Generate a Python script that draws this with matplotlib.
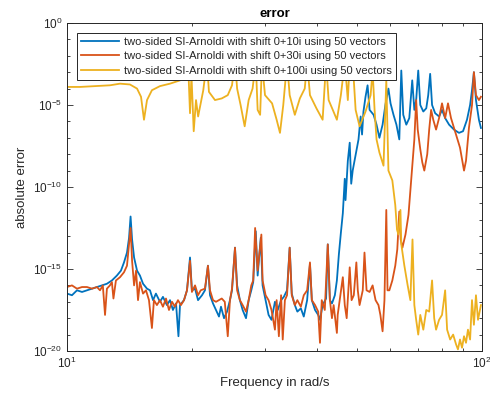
import numpy as np
import matplotlib
matplotlib.use("Agg")
import matplotlib.pyplot as plt
from matplotlib.ticker import LogLocator, FixedLocator, NullFormatter


# ---------------- DATA ----------------
# frequencies in rad/s, errors stored as log10(absolute error)

freq_10i = [
    10.0, 10.28, 10.57, 10.87, 11.17, 11.49, 11.81, 12.14, 12.48, 12.83,
    13.19, 13.49, 13.72, 13.95, 14.11, 14.23, 14.35, 14.51, 14.75, 14.99,
    15.25, 15.59, 15.85, 16.12, 16.38, 16.75, 17.03, 17.41, 17.71, 18.0,
    18.31, 18.56, 18.72, 19.14, 19.46, 19.79, 20.0, 20.35, 20.69, 21.15,
    21.5, 21.86, 22.11, 22.48, 22.86, 23.24, 23.5, 23.9, 24.3, 24.7,
    24.98, 25.4, 25.7, 26.1, 26.5, 27.0, 27.4, 27.8, 28.1, 28.5,
    28.8, 29.3, 29.6, 30.1, 30.6, 31.1, 31.7, 32.2, 32.8, 33.3,
    33.9, 34.4, 34.8, 35.4, 35.9, 36.6, 37.2, 37.9, 38.5, 38.9,
    39.6, 40.3, 40.7, 41.3, 42.1, 42.5, 43.0, 43.5, 44.2, 44.7,
    45.2, 45.7, 46.2, 46.7, 46.9, 47.5, 48.0, 48.4, 48.8, 49.3,
    49.9, 50.4, 51.0, 51.4, 51.8, 52.4, 53.0, 53.6, 54.8, 55.7,
    56.6, 57.6, 58.5, 59.5, 60.2, 61.2, 62.2, 63.2, 63.9, 64.6,
    65.7, 66.8, 67.9, 68.7, 69.4, 70.2, 71.0, 72.2, 73.4, 74.2,
    75.0, 75.8, 77.1, 78.8, 80.1, 81.5, 83.3, 85.6, 88.0, 90.0,
    92.0, 93.6, 94.6, 95.6, 96.7, 98.3, 99.4,
]
logerr_10i = [
    -16.5, -16.6, -16.3, -16.4, -16.3, -16.2, -16.1, -16.0, -15.9, -15.7,
    -15.4, -15.1, -14.6, -14.0, -13.1, -11.8, -13.2, -14.3, -15.1, -15.4,
    -15.9, -16.2, -16.3, -16.9, -16.5, -17.0, -16.7, -17.2, -16.9, -17.5,
    -17.1, -19.1, -17.2, -16.9, -16.3, -14.3, -16.3, -16.2, -16.9, -16.6,
    -16.3, -14.8, -16.6, -17.1, -17.5, -17.9, -17.3, -18.0, -17.6, -16.9,
    -16.3, -13.7, -16.0, -16.9, -17.5, -18.0, -16.9, -16.3, -15.8, -12.7,
    -15.4, -13.1, -16.0, -16.9, -17.8, -18.1, -17.0, -17.5, -16.9, -16.7,
    -16.3, -13.7, -16.5, -17.2, -17.6, -17.4, -17.9, -16.9, -14.7, -16.9,
    -17.5, -17.8, -18.1, -17.2, -16.8, -13.5, -16.9, -17.1, -16.6, -15.7,
    -14.1, -12.8, -11.6, -9.5, -10.8, -8.4, -7.3, -9.8, -9.0, -8.4,
    -7.7, -7.1, -5.7, -6.8, -5.4, -4.5, -3.8, -5.3, -5.6, -6.2,
    -7.0, -6.2, -5.0, -4.0, -4.9, -5.6, -6.2, -7.1, -2.9, -5.6,
    -6.2, -5.8, -3.5, -5.3, -4.7, -2.9, -5.0, -5.4, -5.2, -4.4,
    -3.1, -5.0, -5.5, -5.7, -5.3, -5.8, -6.2, -6.5, -6.7, -6.6,
    -5.9, -5.0, -4.1, -3.0, -4.7, -5.9, -6.4,
]

freq_30i = [
    10.0, 10.28, 10.57, 10.87, 11.17, 11.49, 11.81, 12.01, 12.2, 12.35,
    12.48, 12.69, 12.83, 12.94, 13.12, 13.42, 13.72, 13.95, 14.11, 14.23,
    14.35, 14.51, 14.67, 14.83, 14.99, 15.25, 15.5, 15.76, 16.02, 16.2,
    16.47, 16.75, 17.03, 17.32, 17.61, 17.91, 18.2, 18.51, 18.82, 19.14,
    19.46, 19.79, 20.0, 20.35, 20.69, 21.0, 21.5, 21.86, 22.11, 22.48,
    22.86, 23.24, 23.6, 24.0, 24.4, 24.7, 24.98, 25.4, 25.7, 26.1,
    26.5, 27.0, 27.4, 27.8, 28.1, 28.4, 28.8, 29.4, 29.6, 30.1,
    30.6, 31.1, 31.7, 32.0, 32.4, 32.8, 33.1, 33.5, 33.9, 34.4,
    34.8, 35.4, 35.9, 36.6, 37.2, 37.9, 38.5, 38.9, 39.6, 40.3,
    40.7, 41.1, 41.8, 42.5, 43.0, 43.5, 43.9, 44.7, 44.9, 45.4,
    46.2, 46.7, 47.2, 48.0, 48.5, 49.1, 49.8, 50.2, 50.7, 51.6,
    52.1, 52.7, 53.6, 54.5, 55.4, 56.3, 56.9, 57.6, 58.2, 58.8,
    59.2, 59.8, 60.8, 61.8, 62.5, 63.2, 63.7, 64.3, 65.4, 66.5,
    67.2, 67.9, 68.7, 69.4, 70.0, 71.0, 71.8, 72.6, 73.8, 74.6,
    75.4, 76.3, 77.5, 78.8, 80.1, 81.5, 82.8, 84.2, 86.1, 88.5,
    90.5, 91.5, 93.0, 94.6, 95.6, 96.7, 98.3, 99.4,
]
logerr_30i = [
    -16.1, -16.0, -16.2, -16.1, -16.1, -16.2, -16.1, -16.3, -16.0, -17.8,
    -16.2, -16.0, -15.8, -16.8, -15.7, -15.5, -15.2, -14.8, -13.5, -12.5,
    -14.5, -16.0, -15.1, -16.9, -15.8, -16.5, -16.3, -16.9, -18.6, -16.9,
    -17.2, -16.9, -17.3, -16.8, -17.5, -17.0, -17.3, -16.9, -17.2, -16.9,
    -16.3, -14.5, -16.4, -16.0, -16.6, -16.3, -16.2, -14.8, -16.3, -16.9,
    -17.0, -16.9, -16.8, -17.0, -19.1, -16.9, -16.2, -13.7, -16.3, -16.9,
    -17.2, -17.6, -16.9, -16.0, -15.7, -12.5, -15.1, -12.9, -15.7, -16.6,
    -16.9, -17.5, -18.7, -16.9, -19.1, -16.6, -19.3, -16.9, -16.6, -13.7,
    -16.6, -17.2, -16.9, -17.3, -16.6, -16.3, -14.6, -16.9, -17.2, -17.6,
    -19.5, -16.9, -17.5, -13.5, -16.9, -18.0, -17.2, -18.9, -17.8, -16.9,
    -15.5, -17.2, -18.0, -14.9, -16.9, -16.6, -14.6, -16.3, -17.2, -16.3,
    -14.0, -16.3, -16.4, -16.0, -16.9, -17.2, -17.8, -18.8, -16.9, -11.4,
    -16.3, -16.3, -15.7, -14.8, -13.8, -11.5, -13.2, -13.7, -12.9, -11.7,
    -10.2, -8.7, -7.1, -4.7, -6.5, -7.7, -8.5, -9.0, -8.0, -6.5,
    -5.3, -5.9, -6.5, -5.8, -4.9, -5.8, -4.9, -5.8, -6.6, -7.6,
    -9.0, -8.4, -6.4, -5.0, -3.0, -4.4, -4.7, -4.5,
]

freq_100i = [
    10.0, 10.75, 11.68, 12.69, 13.42, 14.18, 14.75, 15.08, 15.33, 15.59,
    16.02, 16.75, 17.71, 18.72, 19.35, 19.57, 19.79, 19.95, 20.2, 20.46,
    20.7, 21.3, 21.74, 21.98, 22.73, 23.6, 24.4, 24.98, 25.4, 25.7,
    26.2, 26.8, 27.4, 28.0, 28.5, 28.8, 29.2, 29.5, 30.0, 31.2,
    32.0, 32.6, 33.2, 33.9, 34.4, 35.4, 36.4, 37.4, 37.9, 38.5,
    39.9, 41.3, 42.1, 42.7, 43.7, 44.7, 45.7, 46.7, 47.5, 48.0,
    48.8, 49.6, 50.7, 52.4, 53.9, 54.5, 55.1, 55.7, 56.6, 57.9,
    58.8, 59.5, 60.8, 61.8, 62.4, 62.9, 63.6, 63.9, 65.0, 66.2,
    67.2, 68.0, 68.7, 69.4, 70.2, 71.0, 72.2, 73.4, 74.6, 75.8,
    76.7, 77.5, 78.8, 80.1, 81.5, 82.4, 83.8, 85.2, 86.6, 87.5,
    88.5, 89.5, 90.5, 91.5, 92.5, 93.6, 94.6, 95.6, 96.7, 97.8,
    99.4,
]
logerr_100i = [
    -3.9, -3.9, -3.85, -3.8, -3.7, -3.75, -4.0, -4.5, -5.9, -4.7,
    -4.1, -3.85, -3.7, -3.5, -2.9, -2.3, -5.5, -3.2, -6.6, -4.7,
    -5.7, -4.1, -2.3, -4.2, -4.7, -4.6, -4.4, -3.8, -2.3, -4.0,
    -5.0, -6.3, -4.7, -4.0, -2.4, -5.3, -5.6, -2.4, -4.4, -4.9,
    -5.9, -6.7, -5.0, -2.4, -4.4, -5.6, -4.6, -4.0, -2.4, -4.4,
    -5.2, -5.9, -2.4, -4.7, -5.3, -5.9, -4.4, -2.4, -4.7, -2.4,
    -2.4, -5.3, -6.3, -5.4, -4.4, -2.9, -5.3, -7.1, -7.9, -8.7,
    -3.5, -9.0, -9.6, -11.1, -12.6, -12.9, -11.4, -13.5, -14.8, -16.0,
    -16.9, -13.2, -17.2, -18.1, -19.0, -17.8, -18.7, -17.5, -17.6, -15.7,
    -18.0, -18.7, -18.1, -17.8, -16.3, -18.7, -19.3, -19.0, -19.6, -19.9,
    -19.3, -19.8, -19.1, -19.5, -18.7, -19.3, -16.9, -18.4, -16.6, -18.1,
    -17.2,
]

labels = [
    "two-sided SI-Arnoldi with shift 0+10i using 50 vectors",
    "two-sided SI-Arnoldi with shift 0+30i using 50 vectors",
    "two-sided SI-Arnoldi with shift 0+100i using 50 vectors",
]
colors = ["#0072BD", "#D95319", "#EDB120"]
# ----------------------------------------------------------------

plt.rcParams["font.family"] = ["Liberation Sans", "DejaVu Sans"]
plt.rcParams["mathtext.default"] = "regular"

axis_col = "#262626"

fig = plt.figure(figsize=(4.90, 4.01), dpi=100)
ax = fig.add_axes([0.1367, 0.1247, 0.847, 0.818])

series = [
    (freq_10i, logerr_10i),
    (freq_30i, logerr_30i),
    (freq_100i, logerr_100i),
]
for (f, le), lab, c in zip(series, labels, colors):
    ax.plot(f, 10.0 ** np.asarray(le), color=c, lw=1.3, label=lab)

ax.set_xscale("log")
ax.set_yscale("log")
ax.set_xlim(10, 100)
ax.set_ylim(1e-20, 1e0)

ax.yaxis.set_major_locator(FixedLocator([1e-20, 1e-15, 1e-10, 1e-5, 1e0]))
ax.yaxis.set_minor_locator(FixedLocator([10.0 ** k for k in range(-20, 1)]))
ax.yaxis.set_minor_formatter(NullFormatter())
ax.yaxis.set_major_formatter(plt.FuncFormatter(lambda v, p: r"$10^{%d}$" % round(np.log10(v))))
ax.xaxis.set_major_locator(FixedLocator([10, 100]))
ax.xaxis.set_minor_locator(LogLocator(base=10, subs=np.arange(2, 10)))
ax.xaxis.set_minor_formatter(NullFormatter())
ax.xaxis.set_major_formatter(plt.FuncFormatter(lambda v, p: r"$10^{%d}$" % round(np.log10(v))))

ax.tick_params(which="both", direction="in", top=True, right=True,
               colors=axis_col, labelsize=8.5, width=0.6)
ax.tick_params(which="major", length=4)
ax.tick_params(which="minor", length=2.5)
for s in ax.spines.values():
    s.set_color(axis_col)
    s.set_linewidth(0.7)

ax.set_title("error", fontsize=9.5, fontweight="bold", color="black", pad=4)
ax.set_xlabel("Frequency in rad/s", fontsize=9.5, color=axis_col)
ax.set_ylabel("absolute error", fontsize=9.5, color=axis_col)

leg = ax.legend(loc="upper left", bbox_to_anchor=(0.024, 0.97), borderaxespad=0,
                fontsize=8.0, handlelength=3.4, labelspacing=0.42,
                frameon=True, fancybox=False, framealpha=1, borderpad=0.35,
                handletextpad=0.5)
leg.get_frame().set_edgecolor(axis_col)
leg.get_frame().set_linewidth(0.7)
for t in leg.get_texts():
    t.set_color(axis_col)

fig.savefig("out.png", dpi=100)
